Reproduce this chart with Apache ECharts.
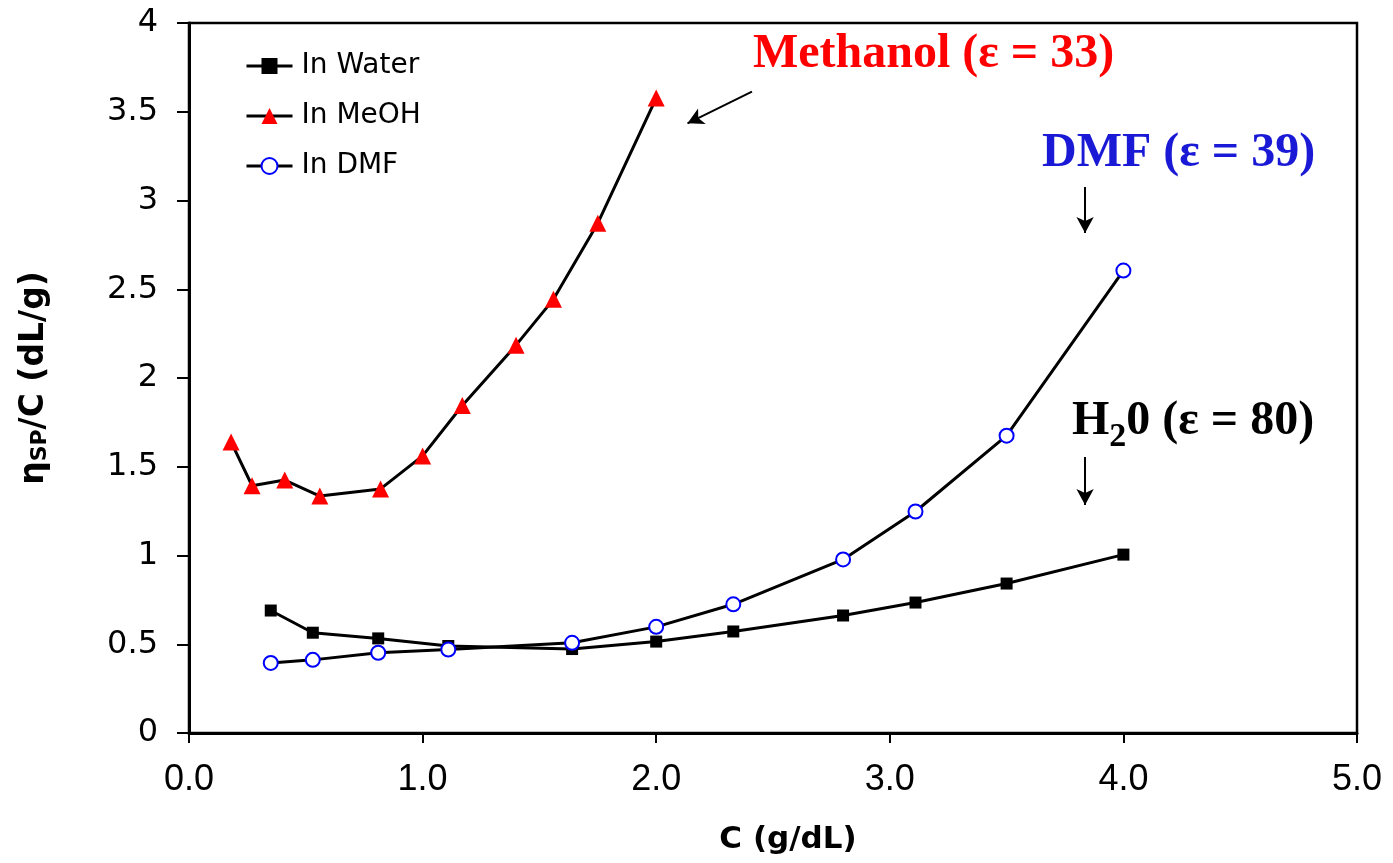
<!DOCTYPE html>
<html>
<head>
<meta charset="utf-8">
<script src="https://cdn.jsdelivr.net/npm/echarts@6/dist/echarts.min.js"></script>
<style>
  html, body { margin: 0; padding: 0; background: #fff; }
  #chart { width: 1393px; height: 863px; }
</style>
</head>
<body>
<div id="chart"></div>
<script>
// Reduced viscosity vs. concentration in three solvents
const waterC   = [0.35, 0.53, 0.81, 1.11, 1.64, 2.00, 2.33, 2.80, 3.11, 3.50, 4.00];
const waterEta = [0.69, 0.565, 0.533, 0.49, 0.473, 0.515, 0.572, 0.662, 0.735, 0.842, 1.005];

const meohC   = [0.18, 0.27, 0.41, 0.56, 0.82, 1.00, 1.17, 1.40, 1.56, 1.75, 2.00];
const meohEta = [1.64, 1.393, 1.425, 1.335, 1.375, 1.561, 1.845, 2.185, 2.443, 2.872, 3.577];

const dmfC   = [0.35, 0.53, 0.81, 1.11, 1.64, 2.00, 2.33, 2.80, 3.11, 3.50, 4.00];
const dmfEta = [0.395, 0.412, 0.452, 0.47, 0.508, 0.598, 0.725, 0.978, 1.248, 1.675, 2.605];

const seriesNames = ['In Water', 'In MeOH', 'In DMF'];

// Annotation arrows in data coordinates: [fromX, fromY, toX, toY]
const meohArrow  = [2.41, 3.613, 2.134, 3.435];
const dmfArrow   = [3.836, 3.076, 3.836, 2.817];
const waterArrow = [3.836, 1.555, 3.836, 1.285];

const pair = (xs, ys) => xs.map((x, i) => [x, ys[i]]);
const sansFont = '"Liberation Sans", Arial, sans-serif';
const wideSans = '"DejaVu Sans", sans-serif';
const serifFont = '"Liberation Serif", "Times New Roman", serif';

function arrowLine(a) {
  return [{ coord: [a[0], a[1]] }, { coord: [a[2], a[3]] }];
}

const chart = echarts.init(document.getElementById('chart'), null, { renderer: 'canvas' });

const option = {
  backgroundColor: '#fff',
  animation: false,
  grid: {
    left: 189, right: 36, top: 23, bottom: 130,
    show: true, borderColor: '#000', borderWidth: 2.5, backgroundColor: 'transparent'
  },
  legend: {
    orient: 'vertical',
    left: 240, top: 47,
    itemWidth: 46, itemHeight: 20,
    itemGap: 22,
    data: seriesNames,
    lineStyle: { width: 3, color: '#000' },
    textStyle: { fontFamily: wideSans, fontSize: 28, color: '#000', lineHeight: 28, padding: [0, 0, 0, 4] }
  },
  xAxis: {
    type: 'value', min: 0, max: 5, interval: 1,
    name: 'C (g/dL)', nameLocation: 'middle', nameGap: 91,
    nameTextStyle: { fontFamily: wideSans, fontSize: 31, fontWeight: 'bold', color: '#000', padding: [0, 0, 0, 30] },
    axisLine: { show: true, lineStyle: { color: '#000', width: 3 } },
    axisTick: { show: true, inside: false, length: 10, lineStyle: { color: '#000', width: 2 } },
    axisLabel: { margin: 29, fontFamily: sansFont, fontSize: 36, color: '#000',
      formatter: v => v.toFixed(1) },
    splitLine: { show: false }
  },
  yAxis: {
    type: 'value', min: 0, max: 4, interval: 0.5,
    name: '{eta|η}{sub|SP}{main|/C (dL/g)}', nameLocation: 'middle', nameGap: 138, nameRotate: 90,
    nameTextStyle: {
      rich: {
        eta: { fontFamily: wideSans, fontSize: 33, fontWeight: 'bold', color: '#000', verticalAlign: 'bottom' },
        sub: { fontFamily: wideSans, fontSize: 22, fontWeight: 'bold', color: '#000', verticalAlign: 'bottom' },
        main: { fontFamily: wideSans, fontSize: 33, fontWeight: 'bold', color: '#000', verticalAlign: 'bottom' }
      }
    },
    axisLine: { show: true, lineStyle: { color: '#000', width: 3 } },
    axisTick: { show: true, inside: false, length: 12, lineStyle: { color: '#000', width: 2 } },
    axisLabel: { margin: 31, fontFamily: wideSans, fontSize: 32, color: '#000' },
    splitLine: { show: false }
  },
  series: [
    {
      name: seriesNames[0], type: 'line', data: pair(waterC, waterEta),
      symbol: 'rect', symbolSize: 12,
      itemStyle: { color: '#000' },
      lineStyle: { color: '#000', width: 3 },
      z: 3,
      markLine: {
        silent: true, symbol: ['none', 'arrow'], symbolSize: [13, 16],
        label: { show: false },
        lineStyle: { color: '#000', width: 2, type: 'solid' },
        data: [arrowLine(meohArrow), arrowLine(dmfArrow), arrowLine(waterArrow)]
      }
    },
    {
      name: seriesNames[1], type: 'line', data: pair(meohC, meohEta),
      symbol: 'triangle', symbolSize: 17,
      itemStyle: { color: '#ff0000' },
      lineStyle: { color: '#000', width: 3 },
      z: 3
    },
    {
      name: seriesNames[2], type: 'line', data: pair(dmfC, dmfEta),
      symbol: 'circle', symbolSize: 14,
      itemStyle: { color: '#fff', borderColor: '#0000ff', borderWidth: 2 },
      lineStyle: { color: '#000', width: 3 },
      z: 4
    }
  ],
  graphic: [
    {
      type: 'text', left: 753, top: 31,
      style: { text: 'Methanol (ε = 33)', fill: '#ff0000', font: 'bold 48px ' + serifFont }
    },
    {
      type: 'text', left: 1042, top: 130,
      style: { text: 'DMF (ε = 39)', fill: '#1a1ad6', font: 'bold 48px ' + serifFont }
    },
    {
      type: 'text', left: 1072, top: 398,
      style: {
        text: '{a|H}{s|2}{a|0 (ε = 80)}',
        rich: {
          a: { fill: '#000', font: 'bold 48px ' + serifFont, verticalAlign: 'top' },
          s: { fill: '#000', font: 'bold 34px ' + serifFont, padding: [22, 0, 0, 0], verticalAlign: 'top' }
        }
      }
    }
  ]
};

chart.setOption(option);
</script>
</body>
</html>
